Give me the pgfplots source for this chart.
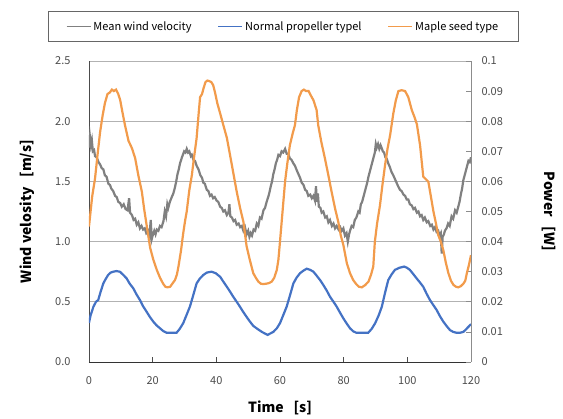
\documentclass[border=0pt]{standalone}
\usepackage{pgfplots}
\pgfplotsset{compat=1.18}
\usepackage{fontspec}
\setmainfont{Noto Sans CJK JP}
\definecolor{velgray}{RGB}{128,128,128}
\definecolor{propblue}{RGB}{68,114,196}
\definecolor{mapleorange}{RGB}{242,155,75}

\begin{document}
\begin{tikzpicture}
\path[use as bounding box] (-89pt,-57pt) rectangle (474pt,362pt);
\pgfplotsset{
  common/.style={
    width=382pt, height=301pt, scale only axis,
    xmin=0, xmax=120,
    tick label style={font=\fontsize{11}{13}\selectfont, text=black!70},
    label style={font=\bfseries\fontsize{14}{16}\selectfont},
    /pgf/number format/assume math mode=true,
    major tick length=5pt, tick align=inside,
  }
}
\begin{axis}[common,
    ymin=0, ymax=2.5,
    xtick={0,20,...,120}, ytick={0,0.5,1.0,1.5,2.0,2.5},
    axis x line*=bottom, axis y line*=left,
    x axis line style={-, draw=black!80, line width=0.8pt},
    y axis line style={-, draw=black!70, line width=0.8pt},
    ymajorgrids, grid style={black!30, line width=0.8pt},
    xtick style={draw=black!70, line width=0.6pt}, ytick style={draw=none},
    yticklabel style={/pgf/number format/.cd, fixed, fixed zerofill, precision=1, /tikz/.cd, xshift=-15pt},
    xticklabel style={yshift=-11pt},
    xlabel={Time\hspace{0.7em}[s]},
    xlabel style={at={(axis description cs:0.5,-0.153)}, anchor=center},
    ylabel={Wind velosity\hspace{0.7em}[m/s]},
    ylabel style={at={(axis description cs:-0.162,0.5)}, anchor=center},
    legend columns=3,
    legend style={at={(axis description cs:0.508,1)}, anchor=south, yshift=19pt,
      draw=black!60, line width=0.6pt, inner xsep=18pt, inner ysep=8pt,
      font=\fontsize{11}{13}\selectfont,
      /tikz/every even column/.append style={column sep=24pt},
      nodes={inner xsep=2pt}},
    legend image code/.code={\draw[#1, line width=1.6pt] (0pt,0pt) -- (24pt,0pt);},
  ]
\addplot[velgray, line width=2.2pt] coordinates {
(0,1.78) (0.3,1.87) (0.6,1.80) (0.9,1.84) (1.2,1.75) (1.6,1.76) (1.9,1.71) (2.4,1.70)
(3,1.66) (3.5,1.64) (4,1.61) (4.5,1.60) (5,1.55) (5.5,1.54) (6.1,1.48) (6.6,1.47)
(7,1.44) (7.6,1.42) (8.2,1.38) (8.7,1.37) (9.2,1.33) (9.8,1.32) (10.3,1.29) (10.9,1.31)
(11.5,1.27) (12.1,1.26) (12.6,1.36) (12.9,1.24) (13.5,1.22) (14,1.18) (14.5,1.19) (15,1.14)
(15.5,1.16) (16,1.11) (16.5,1.13) (17,1.10) (17.5,1.11) (18,1.07) (18.6,1.09) (19,1.05)
(19.4,1.18) (19.7,1.02) (20.1,1.06) (20.5,1.09) (20.9,1.06) (21.3,1.10) (21.8,1.09) (22.3,1.13)
(22.8,1.12) (23.4,1.17) (23.8,1.25) (24.2,1.21) (24.6,1.31) (24.9,1.28) (25.4,1.33) (26,1.37)
(26.5,1.40) (27,1.45) (27.4,1.50) (27.8,1.56) (28.2,1.60) (28.6,1.65) (29.2,1.70) (29.9,1.75)
(30.3,1.74) (30.7,1.77) (31.1,1.74) (31.5,1.75) (32,1.71) (32.3,1.72) (32.8,1.68) (33.3,1.67)
(33.8,1.63) (34.4,1.60) (35,1.55) (35.5,1.53) (35.9,1.49) (36.4,1.48) (37,1.43) (37.5,1.42)
(38,1.38) (38.5,1.39) (39,1.36) (39.5,1.37) (40.1,1.34) (40.6,1.33) (41.2,1.29) (41.7,1.28)
(42.2,1.25) (42.7,1.26) (43.3,1.22) (43.8,1.24) (44.1,1.31) (44.4,1.21) (44.9,1.20) (45.4,1.17)
(45.9,1.18) (46.4,1.14) (47,1.15) (47.5,1.12) (48,1.13) (48.5,1.09) (49,1.12) (49.5,1.06)
(50,1.09) (50.4,1.04) (50.8,1.07) (51.2,1.05) (51.7,1.10) (52.2,1.09) (52.7,1.15) (53.2,1.13)
(53.7,1.20) (54.2,1.19) (54.8,1.26) (55.3,1.28) (55.8,1.33) (56.3,1.37) (56.7,1.41) (57.1,1.46)
(57.5,1.50) (57.9,1.56) (58.3,1.60) (58.7,1.65) (59.1,1.68) (59.5,1.72) (60,1.71) (60.5,1.75)
(61,1.74) (61.6,1.77) (62.1,1.73) (62.6,1.73) (63.1,1.69) (63.6,1.68) (64.2,1.65) (64.7,1.63)
(65.3,1.59) (65.8,1.56) (66.3,1.53) (66.8,1.49) (67.4,1.47) (67.9,1.43) (68.4,1.42) (68.9,1.38)
(69.5,1.39) (70,1.36) (70.5,1.38) (71,1.34) (71.3,1.46) (71.6,1.33) (71.9,1.40) (72.2,1.29)
(72.7,1.28) (73.1,1.24) (73.6,1.25) (74.2,1.20) (74.7,1.21) (75.2,1.16) (75.7,1.18) (76.3,1.13)
(76.8,1.15) (77.3,1.11) (77.8,1.13) (78.4,1.10) (78.9,1.12) (79.4,1.09) (79.9,1.11) (80.4,1.05)
(80.9,1.07) (81.3,1.00) (81.7,1.06) (82,1.09) (82.5,1.13) (83,1.12) (83.5,1.18) (84,1.20)
(84.6,1.25) (85,1.24) (85.4,1.31) (85.8,1.33) (86.2,1.37) (86.6,1.41) (87,1.45) (87.4,1.49)
(87.8,1.54) (88.2,1.58) (88.6,1.62) (89,1.66) (89.3,1.69) (89.8,1.74) (90.1,1.81) (90.4,1.78)
(90.8,1.81) (91.2,1.77) (91.6,1.80) (91.9,1.78) (92.3,1.75) (92.7,1.74) (93.1,1.70) (93.5,1.69)
(94,1.65) (94.5,1.62) (95,1.58) (95.6,1.55) (96.1,1.52) (96.6,1.49) (97.1,1.46) (97.7,1.43)
(98.2,1.42) (98.8,1.39) (99.3,1.38) (99.8,1.35) (100.3,1.35) (100.8,1.31) (101.4,1.30) (101.9,1.27)
(102.4,1.28) (103,1.24) (103.5,1.25) (104,1.21) (104.5,1.22) (105,1.18) (105.5,1.20) (106.1,1.16)
(106.6,1.17) (107.2,1.13) (107.7,1.14) (108.2,1.10) (108.7,1.12) (109.2,1.08) (109.7,1.09) (110.1,1.05)
(110.5,1.07) (110.8,0.90) (111.1,1.04) (111.5,1.06) (111.8,1.09) (112.3,1.11) (112.8,1.15) (113.3,1.13)
(113.9,1.21) (114.4,1.19) (115,1.26) (115.5,1.24) (116,1.29) (116.4,1.33) (116.8,1.39) (117.2,1.44)
(117.6,1.51) (118,1.55) (118.4,1.59) (118.8,1.63) (119.2,1.67) (119.6,1.66) (120,1.70)
};
\addlegendentry{Mean wind velocity}
\addlegendimage{propblue}
\addlegendentry{Normal propeller typel}
\addlegendimage{mapleorange}
\addlegendentry{Maple seed type}
\end{axis}

\begin{axis}[common,
    ymin=0, ymax=0.1,
    axis x line=none, axis y line*=right,
    y axis line style={-, draw=black!45, line width=0.8pt},
    ytick={0,0.01,0.02,0.03,0.04,0.05,0.06,0.07,0.08,0.09,0.1},
    yticklabels={0,0.01,0.02,0.03,0.04,0.05,0.06,0.07,0.08,0.09,0.1},
    ytick style={draw=black!45, line width=0.6pt},
    yticklabel style={xshift=7pt},
    ylabel={Power\hspace{0.7em}[W]},
    ylabel style={at={(axis description cs:1.204,0.5)}, anchor=center, rotate=180},
  ]
\addplot[propblue, line width=2.2pt] coordinates {
(0,0.013) (0.5,0.0155) (1.4,0.0184) (2.2,0.020) (2.9,0.0206) (3.7,0.0235) (4.5,0.0261) (5.2,0.0275)
(6,0.0289) (6.8,0.0297) (7.6,0.030) (8.6,0.0302) (9.7,0.030) (10.7,0.029) (11.8,0.0278) (12.8,0.026)
(13.9,0.0245) (14.9,0.0225) (16,0.0206) (17,0.0185) (18.1,0.0167) (19.1,0.015) (20.2,0.0134) (21.2,0.0122)
(22.3,0.0112) (23.3,0.0103) (24.4,0.0097) (25.9,0.0097) (27.5,0.0097) (28.5,0.011) (29.6,0.0129) (30.6,0.0155)
(31.7,0.0184) (32.7,0.022) (33.8,0.0261) (34.8,0.0277) (35.9,0.0289) (37,0.0297) (38.5,0.030) (39.8,0.0295)
(41.2,0.0283) (42.2,0.0267) (43.3,0.025) (44.3,0.0234) (45.3,0.0217) (46.4,0.020) (47.4,0.0184) (48.4,0.0167)
(49.5,0.015) (50.5,0.0135) (51.6,0.012) (52.9,0.011) (54.3,0.010) (55.2,0.0095) (56.1,0.009) (57,0.0095)
(57.9,0.010) (59,0.0112) (60,0.0129) (61,0.0155) (62.1,0.0184) (63.1,0.022) (64.2,0.0261) (65.2,0.028)
(66.3,0.0295) (67.3,0.0303) (68.4,0.031) (69.5,0.0306) (70.5,0.030) (71.5,0.0287) (72.6,0.0272) (73.6,0.0256)
(74.7,0.0237) (75.7,0.0217) (76.8,0.020) (77.8,0.0184) (78.8,0.0165) (79.9,0.0145) (81,0.0127) (82,0.0112)
(83,0.0102) (84,0.0097) (85.8,0.0097) (87.7,0.0097) (88.8,0.011) (89.9,0.0129) (91,0.0155) (92,0.0184)
(93,0.023) (94,0.0272) (95,0.029) (96.1,0.0306) (97.5,0.0313) (99,0.0317) (99.9,0.0313) (100.8,0.0306)
(101.8,0.0293) (102.9,0.0278) (103.9,0.0265) (105,0.025) (106,0.0228) (107.1,0.0206) (108.1,0.019) (109.2,0.0173)
(110.2,0.0153) (111.3,0.0134) (112.3,0.012) (113.4,0.0106) (114.4,0.010) (115.5,0.0097) (116.5,0.0097) (117.6,0.010)
(118.4,0.0108) (119.2,0.0117) (120,0.0126)
};
\addplot[mapleorange, line width=2.2pt] coordinates {
(0,0.045) (0.5,0.050) (1,0.055) (1.9,0.061) (2.7,0.069) (3.5,0.0765) (4.3,0.082) (5,0.086)
(5.8,0.089) (6.5,0.0895) (7.2,0.0905) (7.8,0.090) (8.5,0.0905) (9.2,0.089) (9.8,0.087) (10.5,0.083)
(11.3,0.0787) (12.4,0.0735) (13.5,0.071) (14.5,0.0677) (15.5,0.062) (16.6,0.0566) (17.3,0.051) (18.1,0.0455)
(19.2,0.038) (20.2,0.034) (21.3,0.0306) (22.3,0.028) (23.3,0.026) (24,0.025) (24.6,0.0248) (25.5,0.025)
(26.3,0.0262) (27,0.0272) (27.6,0.029) (28.1,0.0317) (28.9,0.037) (29.6,0.0428) (30.2,0.047) (30.7,0.050)
(31.5,0.057) (32.3,0.062) (33,0.068) (33.8,0.0743) (34.4,0.082) (34.9,0.088) (35.5,0.089) (36,0.091)
(36.6,0.093) (37.2,0.0935) (37.8,0.0933) (38.4,0.093) (39,0.092) (39.6,0.0895) (40.3,0.086) (41.2,0.0826)
(42.2,0.0787) (43.3,0.0745) (44.3,0.0688) (45.3,0.063) (46.4,0.0566) (47.5,0.051) (48.5,0.0466) (49.5,0.0385)
(50.5,0.034) (51.6,0.0295) (52.4,0.028) (53.2,0.0267) (54,0.026) (54.8,0.0259) (55.6,0.026) (56.5,0.0262)
(57.4,0.0267) (58.2,0.028) (59,0.0306) (59.5,0.034) (60,0.040) (60.8,0.050) (61.6,0.060) (62.3,0.066)
(63.1,0.072) (64,0.076) (64.7,0.0787) (65.3,0.0837) (66,0.088) (66.8,0.090) (67.5,0.0905) (68.2,0.090)
(69,0.090) (69.7,0.0885) (70.5,0.087) (71.5,0.0837) (72,0.0787) (73,0.073) (74.1,0.0677) (75.2,0.062)
(76.2,0.0566) (77.3,0.051) (78.3,0.0466) (79.1,0.042) (79.9,0.0389) (81,0.0328) (82,0.0295) (83,0.0272)
(84,0.0258) (84.8,0.025) (85.7,0.0248) (86.7,0.0255) (87.8,0.0267) (88.6,0.029) (89.3,0.0317) (89.8,0.040)
(90.5,0.046) (91.4,0.052) (92.2,0.059) (93,0.0654) (93.8,0.071) (94.6,0.0754) (95.6,0.0826) (96.4,0.087)
(97.2,0.0900) (98.2,0.0903) (99.3,0.090) (100.3,0.088) (101.4,0.0837) (102.2,0.0815) (103,0.079) (104,0.072)
(105,0.0616) (106.6,0.0599) (107.4,0.055) (108.2,0.050) (109,0.046) (109.7,0.0422) (110.5,0.040) (111.3,0.0372)
(112.1,0.033) (112.9,0.0295) (113.7,0.027) (114.5,0.0256) (115.3,0.025) (116,0.0248) (116.8,0.0252) (117.6,0.026)
(118.2,0.027) (118.7,0.0295) (119.3,0.032) (120,0.0355)
};
\end{axis}
\end{tikzpicture}
\end{document}
